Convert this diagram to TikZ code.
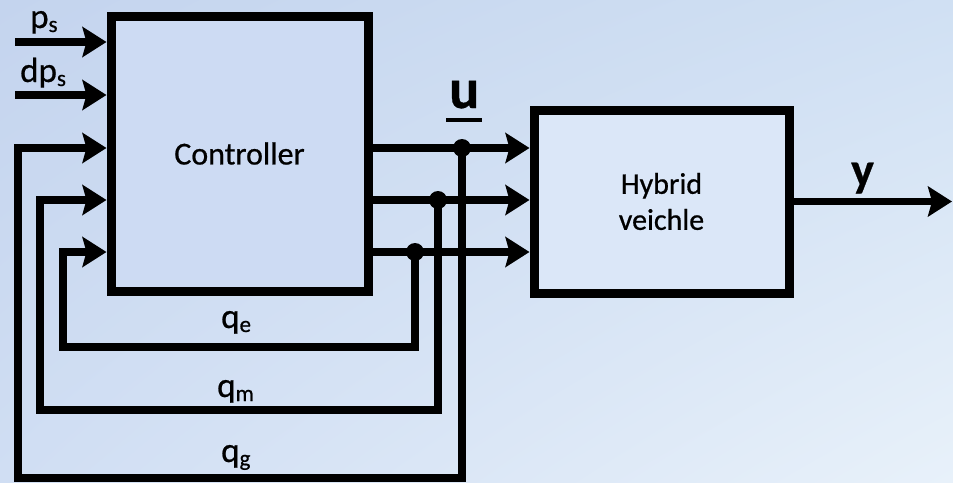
\documentclass[tikz,border=0pt]{standalone}
\usepackage{fontspec}
\setmainfont{Carlito}[FakeBold=0.6]
\definecolor{bgtl}{RGB}{196,212,238}
\definecolor{bgtr}{RGB}{208,224,243}
\definecolor{bgbl}{RGB}{208,222,243}
\definecolor{bgbr}{RGB}{232,241,250}
\definecolor{ctrlfill}{RGB}{205,219,243}
\definecolor{hybfill}{RGB}{219,231,248}
\usetikzlibrary{arrows.meta,calc,shadings}
\newcommand{\lsub}[1]{\raisebox{-4pt}{\fontsize{23}{25}\selectfont #1}}

\begin{document}
\begin{tikzpicture}[x=1pt,y=-1pt,
    block/.style={draw,line width=9pt,inner sep=0pt,align=center},
    sig/.style={line width=7.5pt,-{Stealth[length=24pt,width=30pt,inset=4pt]}},
    jdot/.style={circle,fill,inner sep=0pt,minimum size=18pt},
    lbl/.style={inner sep=0pt,font=\fontsize{35}{38}\selectfont}]
  \useasboundingbox (0,0) rectangle (953,482);
  \shade[upper left=bgtl,upper right=bgtr,lower left=bgbl,lower right=bgbr]
        (0,0) rectangle (953,482);

  % blocks
  \node[block,fill=ctrlfill,minimum width=257pt,minimum height=275pt,
        font=\fontsize{32}{36}\selectfont] (ctrl) at (239.5,153.5) {Controller};
  \node[block,fill=hybfill,minimum width=255pt,minimum height=183pt,
        font=\fontsize{30}{36}\selectfont] (hyb) at (661.5,201.5) {Hybrid\\veichle};

  % junctions and corners
  \coordinate (ju) at (462,148);
  \coordinate (jm) at (438,200);
  \coordinate (je) at (415,252);
  \coordinate (gL) at (18,478);
  \coordinate (mL) at (40,410);
  \coordinate (eL) at (63,347);
  \coordinate (ps) at (15,42);
  \coordinate (dps) at (15,95);
  \coordinate (yout) at (952,0);

  % inputs
  \draw[sig] (ps) -- (ctrl.west |- ps);
  \draw[sig] (dps) -- (ctrl.west |- dps);

  % controller to vehicle
  \foreach \j in {ju,jm,je}
    \draw[sig] (ctrl.east |- \j) -- (hyb.west |- \j);

  % feedback loops
  \draw[sig] (ju) |- (gL) |- (ctrl.west |- ju);
  \draw[sig] (jm) |- (mL) |- (ctrl.west |- jm);
  \draw[sig] (je) |- (eL) |- (ctrl.west |- je);
  \foreach \j in {ju,jm,je}
    \node[jdot] at (\j) {};

  % output
  \draw[sig] (hyb.east) -- (hyb.east -| yout);

  % labels
  \node[lbl,anchor=base west] (lps) at (30,28) {p\lsub{s}};
  \node[lbl,anchor=base west] (ldps) at (20,82) {dp\lsub{s}};
  \node[lbl,anchor=base west] (lqe) at (221,328) {q\lsub{e}};
  \node[lbl,anchor=base west] (lqm) at (217,397) {q\lsub{m}};
  \node[lbl,anchor=base west] (lqg) at (221,462) {q\lsub{g}};
  \node[inner sep=0pt,anchor=base west,font=\bfseries\fontsize{56}{60}\selectfont]
        (lu) at (449,108) {u};
  \draw[line width=4pt] ([xshift=-3pt,yshift=-12pt]lu.base west)
        -- ([xshift=3pt,yshift=-12pt]lu.base east);
  \node[inner sep=0pt,anchor=base west,font=\bfseries\fontsize{48}{52}\selectfont]
        (ly) at (851,186) {y};
\end{tikzpicture}
\end{document}
